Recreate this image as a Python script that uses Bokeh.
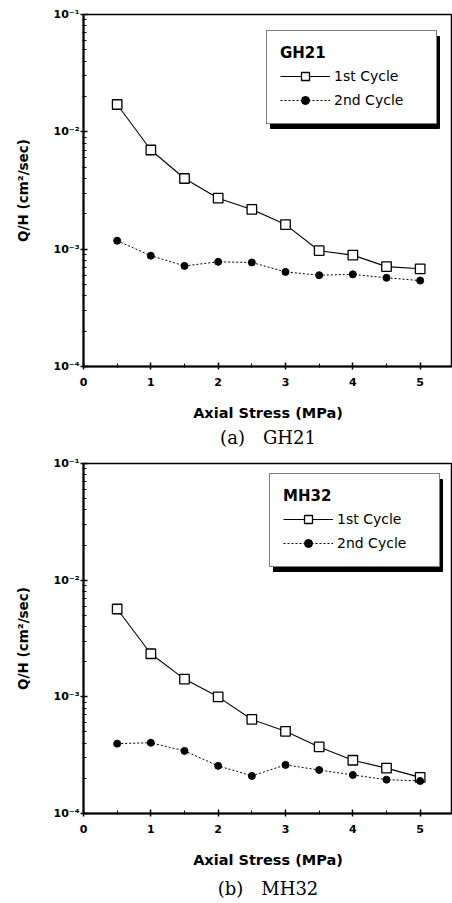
from bokeh.plotting import figure
from bokeh.layouts import column
from bokeh.models import (Range1d, Legend, LegendItem, CustomJSTickFormatter,
                          FixedTicker, LogTicker, Title, BoxAnnotation)
from bokeh.embed import file_html
from bokeh.resources import INLINE

# Axial stress steps (MPa)
stress = [0.5, 1.0, 1.5, 2.0, 2.5, 3.0, 3.5, 4.0, 4.5, 5.0]

# Specimen GH21, Q/H (cm^2/sec)
gh21_cycle1 = [0.0171, 0.0070, 0.0040, 0.00272, 0.00218, 0.00162,
               0.00097, 0.00089, 0.00071, 0.00068]
gh21_cycle2 = [0.00118, 0.00088, 0.00072, 0.00078, 0.00077, 0.00064,
               0.00060, 0.00061, 0.00057, 0.00054]

# Specimen MH32, Q/H (cm^2/sec)
mh32_cycle1 = [0.00566, 0.00234, 0.00142, 0.00100, 0.00064, 0.000506,
               0.000372, 0.000286, 0.000245, 0.000204]
mh32_cycle2 = [0.000397, 0.000404, 0.000344, 0.000256, 0.000210, 0.000261,
               0.000236, 0.000214, 0.000195, 0.000190]

x_ticks = [0, 1, 2, 3, 4, 5]
x_minor = [0.5, 1.5, 2.5, 3.5, 4.5]
series_names = ["1st Cycle", "2nd Cycle"]

SANS = "DejaVu Sans"
SERIF = "DejaVu Serif"

# legend box geometry (screen px)
LEG_PAD = 13
LEG_GLYPH_W = 50
LEG_STANDOFF = 4
LEG_LABEL_W = 89
LEG_W = 2 * LEG_PAD + LEG_GLYPH_W + LEG_STANDOFF + LEG_LABEL_W
LEG_H = 92
SHADOW = 4

pow_fmt = CustomJSTickFormatter(code=r"""
const e = Math.round(Math.log10(tick));
const sup = {'-': '\u207B', '0': '\u2070', '1': '\u00B9', '2': '\u00B2',
             '3': '\u00B3', '4': '\u2074', '5': '\u2075', '6': '\u2076',
             '7': '\u2077', '8': '\u2078', '9': '\u2079'};
return '10' + String(e).split('').map(c => sup[c]).join('');
""")


def panel(name, cyc1, cyc2, caption, height, b_left, b_top, b_bottom,
          leg_xy, cap_standoff):
    p = figure(width=452, height=height, output_backend="svg",
               toolbar_location=None, y_axis_type="log",
               x_range=Range1d(0, 5.48), y_range=Range1d(1e-4, 1e-1),
               min_border_left=b_left, min_border_right=0,
               min_border_top=b_top, min_border_bottom=b_bottom)
    p.grid.visible = False
    p.outline_line_color = "black"
    p.outline_line_width = 1.5
    p.background_fill_color = "white"
    p.border_fill_color = "white"

    # x axis
    xa = p.xaxis[0]
    xa.ticker = FixedTicker(ticks=x_ticks, minor_ticks=x_minor)
    xa.axis_label = "Axial Stress (MPa)"
    xa.axis_label_text_font = SANS
    xa.axis_label_text_font_style = "bold"
    xa.axis_label_text_font_size = "14.5px"
    xa.axis_label_standoff = 16
    xa.major_label_text_font = SANS
    xa.major_label_text_font_style = "bold"
    xa.major_label_text_font_size = "11px"
    xa.major_label_standoff = 8

    # y axis
    ya = p.yaxis[0]
    ya.ticker = LogTicker(num_minor_ticks=10)
    ya.formatter = pow_fmt
    ya.axis_label = "Q/H (cm\u00B2/sec)"
    ya.axis_label_text_font = SANS
    ya.axis_label_text_font_style = "bold"
    ya.axis_label_text_font_size = "13.5px"
    ya.axis_label_standoff = 20
    ya.major_label_text_font = SANS
    ya.major_label_text_font_style = "bold"
    ya.major_label_text_font_size = "11px"
    ya.major_label_standoff = 1

    for ax in (xa, ya):
        ax.axis_line_width = 2
        ax.axis_line_color = "black"
        ax.major_tick_line_color = "black"
        ax.minor_tick_line_color = "black"
        ax.major_tick_line_width = 1.5
        ax.major_tick_in = 4
        ax.major_tick_out = 3
        ax.minor_tick_in = 3
        ax.minor_tick_out = 1
        ax.major_label_text_color = "black"
        ax.axis_label_text_color = "black"

    l1 = p.line(stress, cyc1, line_color="black", line_width=1.1)
    m1 = p.scatter(stress, cyc1, marker="square", size=9.5,
                   fill_color="white", line_color="black", line_width=1.3)
    l2 = p.line(stress, cyc2, line_color="black", line_width=1.0,
                line_dash="2 2")
    m2 = p.scatter(stress, cyc2, marker="circle", size=7,
                   fill_color="black", line_color="black")

    sx, sy = leg_xy
    # drop shadow behind the legend box
    p.add_layout(BoxAnnotation(left=sx + SHADOW, right=sx + LEG_W + SHADOW,
                               bottom=sy - SHADOW, top=sy + LEG_H - SHADOW,
                               left_units="screen", right_units="screen",
                               bottom_units="screen", top_units="screen",
                               fill_color="black", fill_alpha=1.0,
                               line_color="black", line_alpha=1.0,
                               level="annotation"))

    items = [LegendItem(label=series_names[0], renderers=[l1, m1]),
             LegendItem(label=series_names[1], renderers=[l2, m2])]
    lg = Legend(items=items, location=(sx, sy), title=name,
                title_text_font=SANS, title_text_font_style="bold",
                title_text_font_size="15px", title_standoff=4,
                label_text_font=SANS, label_text_font_size="14px",
                glyph_width=LEG_GLYPH_W, glyph_height=20, label_height=20,
                label_width=LEG_LABEL_W, label_standoff=LEG_STANDOFF,
                spacing=4, padding=LEG_PAD, margin=0,
                border_line_color="black", border_line_width=1.5,
                background_fill_color="white", background_fill_alpha=1.0,
                label_text_color="black", title_text_color="black")
    p.add_layout(lg, "center")

    # panel caption under the axis title
    p.add_layout(Title(text=caption, align="center", offset=-12,
                       text_font=SERIF, text_font_style="normal",
                       text_font_size="18px", text_color="black",
                       standoff=cap_standoff), "below")
    return p


top = panel("GH21", gh21_cycle1, gh21_cycle2, "(a)\u2003GH21", 451,
            83, 14, 85, (183, 242), 3)
bottom = panel("MH32", mh32_cycle1, mh32_cycle2, "(b)\u2003MH32", 452,
               82, 12, 89, (186, 246), 10)

layout = column(top, bottom, spacing=0)
open("out.html", "w").write(file_html(layout, INLINE))
